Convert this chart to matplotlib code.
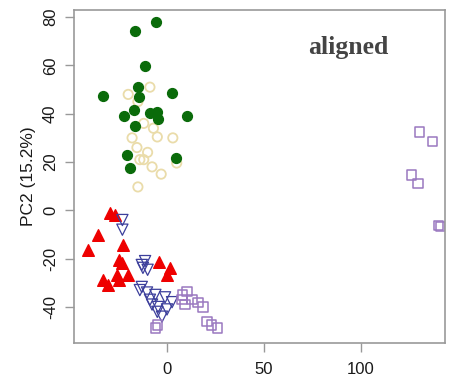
import matplotlib
matplotlib.use("Agg")
import matplotlib.pyplot as plt

plt.rcParams['font.family'] = ['Liberation Sans', 'DejaVu Sans']
plt.rcParams['axes.unicode_minus'] = False

# PCA scores per group
green_x = [-5.7, -16.5, -11.3, -33, -15, -14.4, 2.6, 10.3, -17, -22, -16.5, -8.8, -5, -4.6, -20.6, -19, 4.6]
green_y = [78, 74.4, 59.8, 47.4, 51, 47, 48.7, 39, 41.6, 39, 35, 40.4, 40.8, 37.9, 23, 17.6, 21.7]

tan_x = [-8.8, -20, -15, -12, -7, -5, 3, -15.5, -10, -12, -7.7, -14, 5, -15, -3, -18]
tan_y = [51, 48, 45, 36, 34, 30.4, 30, 26, 24, 21, 18, 21, 19.6, 9.7, 15, 30]

red_x = [-29.4, -26.8, -35.6, -40.7, -22.7, -25, -23, -4, 1.5, 0, -33, -25.8, -20, -30.4, -25]
red_y = [-1, -2, -10, -16.4, -14.3, -20.5, -21.7, -21.3, -24, -26.7, -28.8, -26.7, -26.7, -30.8, -28.8]

blue_x = [-23, -23, -12.4, -11.3, -14, -10.3, -6, -8.8, -7.7, -4.6, -1, 0, -5, -2.6, 2.6, -13, -10, -13]
blue_y = [-8, -4, -23.8, -21, -33, -34, -35, -37, -39, -40, -36, -41, -42, -44, -38, -22.6, -24.6, -31.7]

purple_x = [10.3, 7.7, 9.3, 12.9, 16, 18.6, 20.6, 23, 26, -6, -5, 8,
            130, 137, 126, 129.4, 140, 141]
purple_y = [-33.7, -37, -39, -37, -38, -40, -46, -47.5, -48.7, -48.7, -47.5, -35,
            32.5, 28.4, 14.7, 11, -6.4, -6.8]

fig = plt.figure(figsize=(4.49, 3.79), dpi=100)
ax = fig.add_axes([0.165, 0.095, 0.826, 0.879])

ax.scatter(tan_x, tan_y, s=45, facecolors="none", edgecolors="#eadcaa", linewidths=1.3)
ax.scatter(green_x, green_y, s=50, color="#0a6b0a", edgecolors="#0a6b0a")
ax.scatter(red_x, red_y, s=70, marker="^", color="#ee0000", edgecolors="#ee0000")
ax.scatter(blue_x, blue_y, s=65, marker="v", facecolors="none", edgecolors="#3c3f9c", linewidths=0.9)
ax.scatter(purple_x, purple_y, s=45, marker="s", facecolors="none", edgecolors="#9a78c0", linewidths=1.1)

ax.set_xlim(-47.9, 143.3)
ax.set_ylim(-54.9, 83)
ax.set_xticks([0, 50, 100])
ax.set_yticks([-40, -20, 0, 20, 40, 60, 80])

for s in ax.spines.values():
    s.set_color("#999999")
    s.set_linewidth(1.2)

ax.tick_params(axis="both", direction="out", length=6.5, width=1, color="#999999",
               labelsize=12, labelcolor="#1a1a1a")
ax.tick_params(axis="x", pad=7)
ax.tick_params(axis="y", pad=5)
for lab in ax.get_yticklabels():
    lab.set_rotation(90)
    lab.set_va("center")

ax.set_ylabel("PC2 (15.2%)", fontsize=12.5, color="#1a1a1a", labelpad=5)

ax.text(93.3, 67.5, "aligned", family="Liberation Serif", fontsize=18.5, weight="bold",
        color="#444444", ha="center", va="center")

fig.savefig("out.png", dpi=100)
